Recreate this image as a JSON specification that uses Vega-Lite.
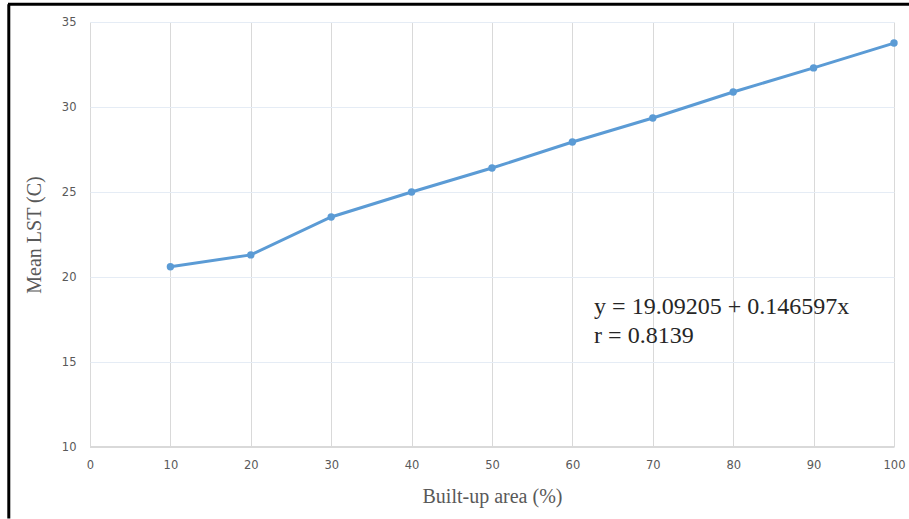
{
  "$schema": "https://vega.github.io/schema/vega-lite/v6.json",
  "width": 804,
  "height": 425,
  "autosize": {"type": "none"},
  "padding": {"left": 90, "top": 22, "right": 15, "bottom": 72},
  "background": "white",
  "config": {
    "view": {"stroke": null},
    "axis": {
      "labelFont": "DejaVu Sans",
      "labelFontSize": 11.5,
      "labelColor": "#595959",
      "labelFlush": false,
      "titleFont": "Liberation Serif",
      "titleFontSize": 20,
      "titleFontWeight": "normal",
      "titleColor": "#595959",
      "ticks": false,
      "domain": false
    }
  },
  "datasets": {
    "pts": [
      {"area": 10, "lst": 20.6},
      {"area": 20, "lst": 21.3},
      {"area": 30, "lst": 23.53},
      {"area": 40, "lst": 25.0},
      {"area": 50, "lst": 26.41},
      {"area": 60, "lst": 27.94},
      {"area": 70, "lst": 29.35},
      {"area": 80, "lst": 30.88},
      {"area": 90, "lst": 32.3},
      {"area": 100, "lst": 33.76}
    ],
    "notes": [
      {"area": 62.7, "lst": 18.24, "label": "y = 19.09205 + 0.146597x"},
      {"area": 62.7, "lst": 16.55, "label": "r = 0.8139"}
    ]
  },
  "layer": [
    {
      "data": {"name": "pts"},
      "mark": {"type": "line", "color": "#5b9bd5", "strokeWidth": 3},
      "encoding": {
        "x": {
          "field": "area", "type": "quantitative",
          "scale": {"domain": [0, 100], "nice": false},
          "axis": {
            "values": [0, 10, 20, 30, 40, 50, 60, 70, 80, 90, 100],
            "title": "Built-up area (%)",
            "titlePadding": 16,
            "labelPadding": 12,
            "grid": true,
            "gridColor": "#d9d9d9",
            "gridWidth": 1
          }
        },
        "y": {
          "field": "lst", "type": "quantitative",
          "scale": {"domain": [10, 35], "nice": false, "zero": false},
          "axis": {
            "values": [10, 15, 20, 25, 30, 35],
            "title": "Mean LST (C)",
            "titlePadding": 17,
            "labelPadding": 14,
            "grid": true,
            "gridColor": "#e5ecf5",
            "gridWidth": 1
          }
        }
      }
    },
    {
      "data": {"name": "pts"},
      "mark": {"type": "point", "filled": true, "color": "#5b9bd5", "size": 55, "opacity": 1},
      "encoding": {
        "x": {"field": "area", "type": "quantitative"},
        "y": {"field": "lst", "type": "quantitative"}
      }
    },
    {
      "data": {"name": "pts"},
      "mark": {"type": "rule", "color": "#d9d9d9", "strokeWidth": 1.5},
      "encoding": {
        "y": {"datum": 10, "type": "quantitative"}
      }
    },
    {
      "data": {"values": [{}]},
      "mark": {"type": "rule", "color": "#000000", "strokeWidth": 3, "clip": false},
      "encoding": {
        "x": {"datum": -10.1, "type": "quantitative"},
        "y": {"datum": 36.05, "type": "quantitative"},
        "y2": {"datum": 5.8}
      }
    },
    {
      "data": {"values": [{}]},
      "mark": {"type": "rule", "color": "#000000", "strokeWidth": 3, "clip": false},
      "encoding": {
        "x": {"datum": -10.2, "type": "quantitative"},
        "x2": {"datum": 102.4},
        "y": {"datum": 36.05, "type": "quantitative"}
      }
    },
    {
      "data": {"name": "notes"},
      "mark": {"type": "text", "align": "left", "baseline": "middle", "font": "Liberation Serif", "fontSize": 24, "color": "#262626"},
      "encoding": {
        "x": {"field": "area", "type": "quantitative"},
        "y": {"field": "lst", "type": "quantitative"},
        "text": {"field": "label"}
      }
    }
  ]
}
